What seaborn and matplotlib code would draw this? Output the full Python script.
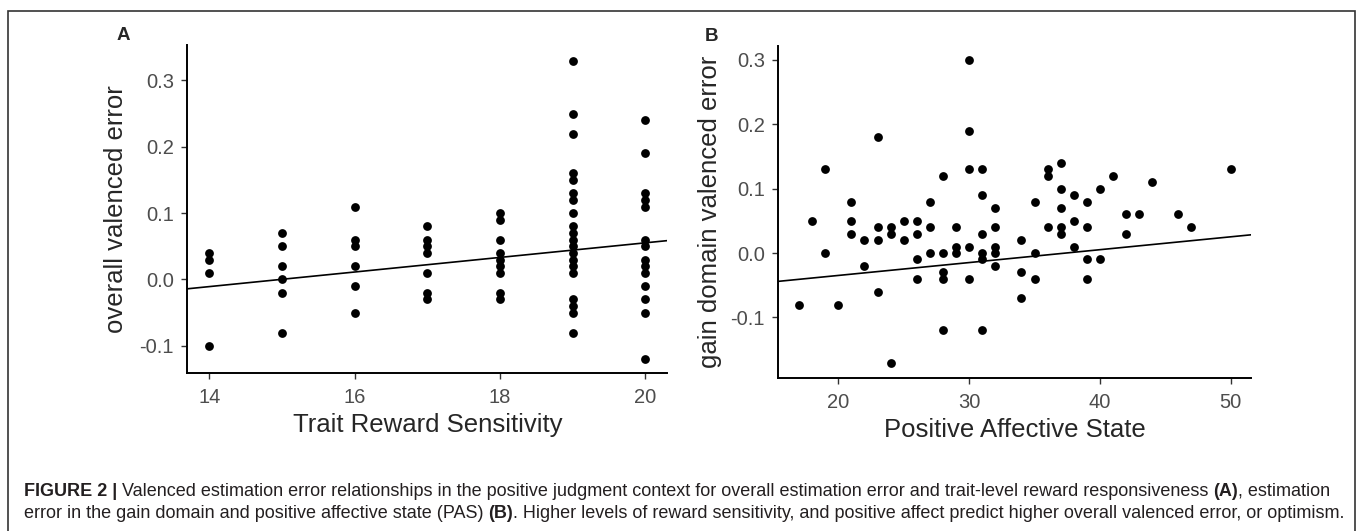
import numpy as np
import pandas as pd
import matplotlib
matplotlib.use('Agg')
import matplotlib.pyplot as plt
from matplotlib.patches import Rectangle
import seaborn as sns

#%% data
# panel A: trait reward sensitivity vs overall valenced error
rs_14 = [0.04, 0.03, 0.01, -0.10]
rs_15 = [0.07, 0.05, 0.02, 0.00, -0.02, -0.08]
rs_16 = [0.11, 0.06, 0.05, 0.02, -0.01, -0.05]
rs_17 = [0.08, 0.06, 0.05, 0.04, 0.01, -0.02, -0.03]
rs_18 = [0.10, 0.09, 0.06, 0.04, 0.03, 0.02, 0.01, -0.02, -0.03]
rs_19 = [0.33, 0.25, 0.22, 0.16, 0.15, 0.13, 0.12, 0.10, 0.08, 0.07,
         0.06, 0.05, 0.04, 0.03, 0.02, 0.01, -0.03, -0.04, -0.05, -0.08]
rs_20 = [0.24, 0.19, 0.13, 0.12, 0.11, 0.06, 0.05, 0.03, 0.02, 0.01,
         -0.01, -0.03, -0.05, -0.12]
rs_groups = [14, 15, 16, 17, 18, 19, 20]
# fitted line as printed in the figure (model line, not a plain fit of the dots)
a_intercept, a_slope = -0.1647, 0.0110

# panel B: positive affective state vs gain domain valenced error
pas = [17, 18, 19, 19, 20, 21, 21, 21, 22, 22, 23, 23, 23, 23, 24, 24, 24,
       25, 25, 26, 26, 26, 26, 27, 27, 27, 28, 28, 28, 28, 28, 29, 29, 29,
       30, 30, 30, 30, 30, 31, 31, 31, 31, 31, 31, 32, 32, 32, 32, 32,
       34, 34, 34, 35, 35, 35, 36, 36, 36, 37, 37, 37, 37, 37, 38, 38, 38,
       39, 39, 39, 39, 40, 40, 41, 42, 42, 43, 44, 46, 47, 50]
gain_err = [-0.08, 0.05, 0.13, 0.00, -0.08, 0.08, 0.05, 0.03, 0.02, -0.02,
            0.18, 0.04, 0.02, -0.06, 0.04, 0.03, -0.17, 0.05, 0.02,
            0.05, 0.03, -0.01, -0.04, 0.08, 0.04, 0.00,
            0.12, 0.00, -0.03, -0.04, -0.12, 0.04, 0.01, 0.00,
            0.30, 0.19, 0.13, 0.01, -0.04, 0.13, 0.09, 0.03, 0.00, -0.01, -0.12,
            0.07, 0.04, 0.01, 0.00, -0.02, 0.02, -0.03, -0.07,
            0.08, 0.00, -0.04, 0.13, 0.12, 0.04,
            0.14, 0.10, 0.07, 0.04, 0.03, 0.09, 0.05, 0.01,
            0.08, 0.04, -0.01, -0.04, 0.10, -0.01, 0.12, 0.06, 0.03,
            0.06, 0.11, 0.06, 0.04, 0.13]
b_intercept, b_slope = -0.0748, 0.0020

caption_bits = [
    ("FIGURE 2 | ", "bold"),
    ("Valenced estimation error relationships in the positive judgment context for overall estimation error and trait-level reward responsiveness ", "normal"),
    ("(A)", "bold"),
    (", estimation", "normal"),
]
caption_bits2 = [
    ("error in the gain domain and positive affective state (PAS) ", "normal"),
    ("(B)", "bold"),
    (". Higher levels of reward sensitivity, and positive affect predict higher overall valenced error, or optimism.", "normal"),
]

#%%
dfa = pd.DataFrame({
    'rs': np.repeat(rs_groups, [len(g) for g in [rs_14, rs_15, rs_16, rs_17, rs_18, rs_19, rs_20]]),
    'err': rs_14 + rs_15 + rs_16 + rs_17 + rs_18 + rs_19 + rs_20,
})
dfb = pd.DataFrame({'pas': pas, 'err': gain_err})

sns.set_style('white')
plt.rcParams['font.family'] = ['Liberation Sans', 'DejaVu Sans']

W, H = 1360, 531
fig = plt.figure(figsize=(W / 100, H / 100), dpi=100)
axA = fig.add_axes([187.3 / W, 1 - 372.7 / H, 480 / W, 327.7 / H])
axB = fig.add_axes([778 / W, 1 - 377.7 / H, 473 / W, 332 / H])


def style_axes(ax):
    for s in ['top', 'right']:
        ax.spines[s].set_visible(False)
    for s in ['left', 'bottom']:
        ax.spines[s].set_color('black')
        ax.spines[s].set_linewidth(1.4)
    ax.tick_params(axis='both', direction='out', length=4, width=1.0,
                   color='#333333', labelcolor='#4d4d4d', labelsize=14.5,
                   left=True, bottom=True)
    ax.tick_params(axis='x', pad=7)
    ax.tick_params(axis='y', pad=5.5)


def draw_panel(ax, df, xcol, b0, b1, xlim, ylim, xticks, xlab, ylab, ylab_x, xlab_y):
    sns.scatterplot(data=df, x=xcol, y='err', ax=ax, s=40, color='black',
                    linewidth=0, legend=False)
    line = pd.DataFrame({'x': list(xlim)})
    line['y'] = b0 + b1 * line['x']
    sns.lineplot(data=line, x='x', y='y', ax=ax, color='black', linewidth=1.2)
    ax.set_xlim(*xlim)
    ax.set_ylim(*ylim)
    ax.set_xticks(xticks)
    ax.set_yticks([-0.1, 0.0, 0.1, 0.2, 0.3])
    ax.set_yticklabels(['-0.1', '0.0', '0.1', '0.2', '0.3'])
    ax.set_xlabel(xlab, fontsize=18.5, va='center')
    ax.set_ylabel(ylab, fontsize=18.5, va='center')
    ax.xaxis.set_label_coords(0.5, xlab_y)
    ax.yaxis.set_label_coords(ylab_x, 0.5)
    style_axes(ax)


draw_panel(axA, dfa, 'rs', a_intercept, a_slope, (13.697, 20.30), (-0.1405, 0.3535),
           [14, 16, 18, 20], 'Trait Reward Sensitivity', 'overall valenced error',
           -0.1485, -0.1596)
draw_panel(axB, dfb, 'pas', b_intercept, b_slope, (15.39, 51.55), (-0.1936, 0.322),
           [20, 30, 40, 50], 'Positive Affective State', 'gain domain valenced error',
           -0.1438, -0.1575)

fig.text(123 / W, 1 - 35.5 / H, 'A', fontsize=13.5, fontweight='bold', ha='center', va='center')
fig.text(711.5 / W, 1 - 36.5 / H, 'B', fontsize=13.5, fontweight='bold', ha='center', va='center')

# border round the figure (bottom runs off the picture)
fig.add_artist(Rectangle((8.3 / W, -0.05), (1355 - 8.3) / W, 1.05 - 10.7 / H,
                         transform=fig.transFigure, fill=False,
                         edgecolor='#333333', linewidth=1.2))

# caption, written piece by piece so bold and normal can sit in one line
over = fig.add_axes([0, 0, 1, 1], facecolor='none')
over.set_axis_off()
over.set_xlim(0, 1)
over.set_ylim(0, 1)
cap_size = 13.0
cap_col = '#231f20'
for bits, ybase in [(caption_bits, 1 - 496 / H), (caption_bits2, 1 - 518 / H)]:
    prev = None
    for txt, w in bits:
        if prev is None:
            prev = over.text(24 / W, ybase, txt, fontsize=cap_size, fontweight=w,
                             color=cap_col, ha='left', va='baseline')
        else:
            prev = over.annotate(txt, xy=(1, 0), xycoords=prev, xytext=(0, 0),
                                 textcoords='offset points', fontsize=cap_size,
                                 fontweight=w, color=cap_col, ha='left', va='bottom')

fig.savefig('out.png', dpi=100)
